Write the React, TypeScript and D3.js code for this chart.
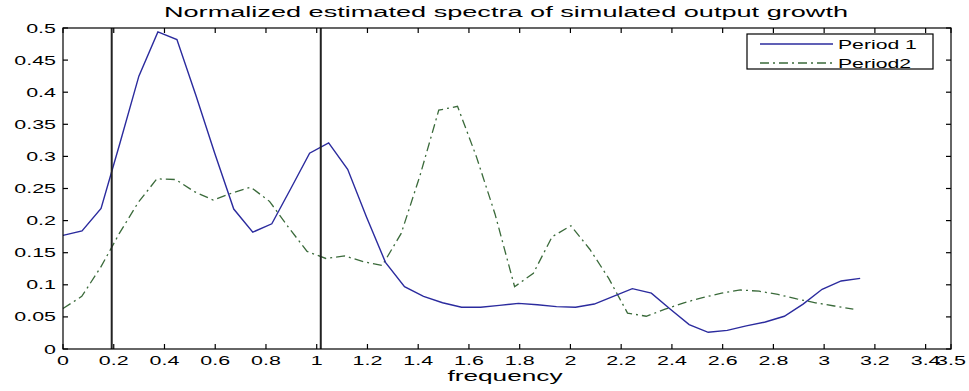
import React from "react";
import * as d3 from "d3";

const titleText = "Normalized estimated spectra of simulated output growth";
const xLabelText = "frequency";
const seriesNames = ["Period 1", "Period2"];

const freq1 = [0, 0.075, 0.15, 0.224, 0.299, 0.374, 0.449, 0.524, 0.598, 0.673, 0.748, 0.823, 0.898, 0.972, 1.047, 1.122, 1.197, 1.271, 1.346, 1.421, 1.496, 1.571, 1.646, 1.72, 1.795, 1.87, 1.945, 2.02, 2.094, 2.169, 2.244, 2.319, 2.394, 2.468, 2.543, 2.618, 2.693, 2.768, 2.843, 2.917, 2.992, 3.067, 3.142];
const period1 = [0.177, 0.184, 0.219, 0.32, 0.425, 0.494, 0.482, 0.395, 0.305, 0.218, 0.182, 0.195, 0.25, 0.305, 0.321, 0.28, 0.205, 0.135, 0.097, 0.082, 0.072, 0.065, 0.065, 0.068, 0.071, 0.069, 0.066, 0.065, 0.07, 0.082, 0.094, 0.087, 0.062, 0.038, 0.026, 0.029, 0.036, 0.042, 0.051, 0.07, 0.093, 0.106, 0.11];

const freq2 = [0, 0.074, 0.148, 0.222, 0.296, 0.37, 0.444, 0.518, 0.592, 0.666, 0.74, 0.814, 0.888, 0.962, 1.036, 1.11, 1.184, 1.258, 1.333, 1.407, 1.481, 1.555, 1.629, 1.703, 1.78, 1.854, 1.928, 2.002, 2.077, 2.151, 2.225, 2.299, 2.373, 2.447, 2.521, 2.596, 2.67, 2.744, 2.818, 2.892, 2.966, 3.04, 3.115];
const period2 = [0.063, 0.082, 0.127, 0.18, 0.228, 0.265, 0.264, 0.245, 0.232, 0.243, 0.252, 0.23, 0.19, 0.152, 0.141, 0.145, 0.136, 0.13, 0.18, 0.27, 0.372, 0.378, 0.3, 0.21, 0.097, 0.118, 0.175, 0.192, 0.155, 0.11, 0.056, 0.051, 0.062, 0.072, 0.08, 0.087, 0.092, 0.09, 0.085, 0.078, 0.072, 0.067, 0.062];

const bandLines = [0.192, 1.016];

const xTicks = [0, 0.2, 0.4, 0.6, 0.8, 1, 1.2, 1.4, 1.6, 1.8, 2, 2.2, 2.4, 2.6, 2.8, 3, 3.2, 3.4, 3.5];
const xTickLabels = ["0", "0.2", "0.4", "0.6", "0.8", "1", "1.2", "1.4", "1.6", "1.8", "2", "2.2", "2.4", "2.6", "2.8", "3", "3.2", "3.4", "3.5"];
const yTicks = [0, 0.05, 0.1, 0.15, 0.2, 0.25, 0.3, 0.35, 0.4, 0.45, 0.5];
const yTickLabels = ["0", "0.05", "0.1", "0.15", "0.2", "0.25", "0.3", "0.35", "0.4", "0.45", "0.5"];

const W = 969;
const H = 391;
const M = { left: 63, right: 951, top: 28, bottom: 349 };
const FONT = "'Liberation Sans', Arial, Helvetica, sans-serif";
const BLUE = "#2b2b9e";
const GREEN = "#3a6a3a";

function SText({ x, y, sx, size, anchor, children }: any) {
  return (
    <text
      transform={`translate(${x},${y}) scale(${sx},1)`}
      fontSize={size}
      fontFamily={FONT}
      textAnchor={anchor}
      fill="#000"
    >
      {children}
    </text>
  );
}

export default function App() {
  const x = d3.scaleLinear().domain([0, 3.5]).range([M.left, M.right]);
  const y = d3.scaleLinear().domain([0, 0.5]).range([M.bottom, M.top]);
  const line = d3
    .line<[number, number]>()
    .x((d) => x(d[0]))
    .y((d) => y(d[1]));
  const d1 = line(freq1.map((f, i) => [f, period1[i]]));
  const d2 = line(freq2.map((f, i) => [f, period2[i]]));
  const tl = 5;
  const greenDash = "9,4,2,4";

  return (
    <svg
      width={W}
      height={H}
      style={{ position: "absolute", left: 0, top: 0, background: "#fff" }}
    >
      <rect x={0} y={0} width={W} height={H} fill="#fff" />
      {/* lines */}
      <path d={d2 || ""} fill="none" stroke={GREEN} strokeWidth={1.3} strokeDasharray={greenDash} />
      <path d={d1 || ""} fill="none" stroke={BLUE} strokeWidth={1.4} />
      {/* band lines */}
      {bandLines.map((b, i) => (
        <line key={i} x1={x(b)} x2={x(b)} y1={y(0.5)} y2={y(0)} stroke="#222" strokeWidth={2} />
      ))}
      {/* axes box */}
      <rect
        x={M.left}
        y={M.top}
        width={M.right - M.left}
        height={M.bottom - M.top}
        fill="none"
        stroke="#000"
        strokeWidth={1.2}
      />
      {/* x ticks */}
      {xTicks.map((t, i) => (
        <g key={"xt" + i}>
          <line x1={x(t)} x2={x(t)} y1={M.bottom} y2={M.bottom - tl} stroke="#000" strokeWidth={1.2} />
          <line x1={x(t)} x2={x(t)} y1={M.top} y2={M.top + tl} stroke="#000" strokeWidth={1.2} />
          <SText x={x(t)} y={365} sx={1.65} size={13} anchor="middle">
            {xTickLabels[i]}
          </SText>
        </g>
      ))}
      {/* y ticks */}
      {yTicks.map((t, i) => (
        <g key={"yt" + i}>
          <line x1={M.left} x2={M.left + tl} y1={y(t)} y2={y(t)} stroke="#000" strokeWidth={1.2} />
          <line x1={M.right} x2={M.right - tl} y1={y(t)} y2={y(t)} stroke="#000" strokeWidth={1.2} />
          <SText x={56} y={y(t) + 4.5} sx={1.65} size={13} anchor="end">
            {yTickLabels[i]}
          </SText>
        </g>
      ))}
      {/* title */}
      <SText x={506} y={17} sx={1.75} size={15.5} anchor="middle">
        {titleText}
      </SText>
      {/* x label */}
      <SText x={505} y={381} sx={1.75} size={15} anchor="middle">
        {xLabelText}
      </SText>
      {/* legend */}
      <rect x={747} y={34} width={186} height={35} fill="#fff" stroke="#000" strokeWidth={1.2} />
      <line x1={760} x2={833} y1={44} y2={44} stroke={BLUE} strokeWidth={1.4} />
      <line x1={760} x2={833} y1={63} y2={63} stroke={GREEN} strokeWidth={1.3} strokeDasharray={greenDash} />
      <SText x={838} y={48.5} sx={1.63} size={13} anchor="start">
        {seriesNames[0]}
      </SText>
      <SText x={838} y={67.5} sx={1.63} size={13} anchor="start">
        {seriesNames[1]}
      </SText>
    </svg>
  );
}
